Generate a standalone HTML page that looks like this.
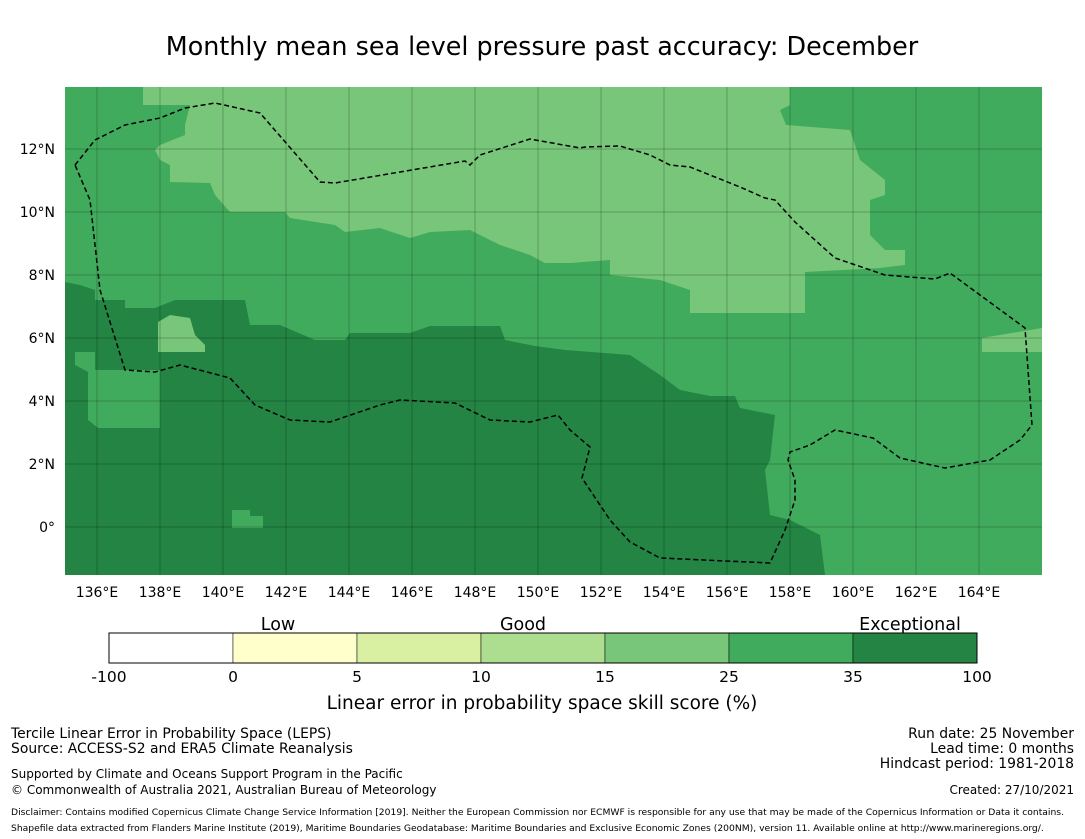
<!DOCTYPE html>
<html><head><meta charset="utf-8"><style>
body{margin:0;background:#fff;font-family:"Liberation Sans","DejaVu Sans",sans-serif;}
svg{display:block}
</style></head><body>
<svg width="1085" height="839" viewBox="0 0 1085 839" font-family="DejaVu Sans, Liberation Sans, sans-serif">
<text x="542" y="55" text-anchor="middle" font-size="25.4">Monthly mean sea level pressure past accuracy: December</text>
<g id="map">
<rect x="65" y="87" width="977" height="488" fill="#41ab5d"/>
<polygon fill="#78c679" points="143,87 790,87 790,105 780,110 786,125 850,130 860,160 885,180 885,195 870,200 870,235 885,250 905,250 905,265 880,268 805,272 805,313 690,313 690,290 660,280 610,275 610,260 570,263 545,263 530,255 500,245 470,230 430,232 410,238 380,228 345,232 335,225 290,218 285,212 230,212 215,195 210,183 170,182 170,165 160,160 155,150 160,145 185,135 185,125 190,105 143,105"/>
<polygon fill="#78c679" points="982,338 1042,328 1042,352 982,352"/>
<polygon fill="#238443" points="65,282 80,285 95,290 95,300 125,300 125,308 155,308 175,300 190,300 245,300 250,325 280,325 315,340 345,340 350,333 410,333 430,326 500,326 505,340 535,346 565,350 630,355 660,375 680,390 710,396 735,396 740,408 775,415 770,460 765,470 770,515 790,520 820,535 825,575 65,575"/>
<polygon fill="#41ab5d" points="75,352 95,352 95,370 160,370 160,428 98,428 88,420 88,372 75,365"/>
<polygon fill="#78c679" points="158,322 170,315 190,318 195,335 205,345 205,352 158,352"/>
<polygon fill="#41ab5d" points="232,510 250,510 250,516 263,516 263,528 232,528"/>
<g id="grid" stroke="#000" stroke-opacity="0.22" stroke-width="1"></g>
<polyline fill="none" stroke="#000" stroke-width="1.5" stroke-dasharray="5,3" points="75,165 95,140 125,125 160,118 185,108 215,103 260,113 320,182 335,183 400,172 465,161 470,165 480,155 530,139 580,148 585,147 620,146 650,155 670,165 690,167 740,187 765,198 775,200 795,222 835,258 885,275 935,279 950,273 1025,328 1032,425 1020,440 990,460 945,468 900,458 873,438 835,430 810,445 790,452 788,460 795,480 795,500 785,530 770,563 660,558 630,542 610,520 582,478 590,447 570,430 558,415 530,422 490,420 455,403 400,400 380,405 330,422 290,420 255,405 230,378 180,365 155,372 125,370 100,290 90,200 75,165"/>
</g>
<g id="xt" font-size="14" text-anchor="middle"></g>
<g id="yt" font-size="14" text-anchor="end"></g>
<g id="cb"></g>
<text x="278" y="630" font-size="17.5" text-anchor="middle">Low</text>
<text x="523" y="630" font-size="17.5" text-anchor="middle">Good</text>
<text x="910" y="630" font-size="17.5" text-anchor="middle">Exceptional</text>
<text x="542" y="709" font-size="18.5" text-anchor="middle">Linear error in probability space skill score (%)</text>
<g font-size="13.9">
<text x="11" y="738">Tercile Linear Error in Probability Space (LEPS)</text>
<text x="11" y="753">Source: ACCESS-S2 and ERA5 Climate Reanalysis</text>
<text x="11" y="778" font-size="12">Supported by Climate and Oceans Support Program in the Pacific</text>
<text x="11" y="794" font-size="12">© Commonwealth of Australia 2021, Australian Bureau of Meteorology</text>
</g>
<g font-size="13.9" text-anchor="end">
<text x="1074" y="738">Run date: 25 November</text>
<text x="1074" y="753">Lead time: 0 months</text>
<text x="1074" y="768">Hindcast period: 1981-2018</text>
<text x="1074" y="794" font-size="12">Created: 27/10/2021</text>
</g>
<text x="11" y="815" font-size="9.2">Disclaimer: Contains modified Copernicus Climate Change Service Information [2019]. Neither the European Commission nor ECMWF is responsible for any use that may be made of the Copernicus Information or Data it contains.</text>
<text x="11" y="831" font-size="9.2">Shapefile data extracted from Flanders Marine Institute (2019), Maritime Boundaries Geodatabase: Maritime Boundaries and Exclusive Economic Zones (200NM), version 11. Available online at http://www.marineregions.org/.</text>
</svg>
<script>
const lonTicks=[136,138,140,142,144,146,148,150,152,154,156,158,160,162,164];
const latTicks=[12,10,8,6,4,2,0];
const latLabels=["12°N","10°N","8°N","6°N","4°N","2°N","0°"];
const cbBounds=["-100","0","5","10","15","25","35","100"];
const cbColors=["#ffffff","#ffffcc","#d9f0a3","#addd8e","#78c679","#41ab5d","#238443"];
const NS="http://www.w3.org/2000/svg";
const xs=l=>65.5+(l-135)*31.5, ys=l=>527-l*31.5;
function mk(t,a,p){const e=document.createElementNS(NS,t);for(const k in a)e.setAttribute(k,a[k]);p.appendChild(e);return e;}
const g=document.getElementById('grid'),xt=document.getElementById('xt'),yt=document.getElementById('yt'),cb=document.getElementById('cb');
lonTicks.forEach(l=>{const x=xs(l);
const ln=mk('line',{x1:x,x2:x,y1:87,y2:575},g);


const t=mk('text',{x:x,y:597},xt);t.textContent=l+'°E';

});
latTicks.forEach((l,i)=>{const y=ys(l);
const ln=mk('line',{x1:65,x2:1042,y1:y,y2:y},g);


const t=mk('text',{x:55,y:y+5},yt);t.textContent=latLabels[i];

});
const w=124;
cbColors.forEach((c,i)=>{const r=mk('rect',{x:109+i*w,y:633,width:w,height:30,fill:c,stroke:'#000','stroke-width':0.5},cb);

});
mk('rect',{x:109,y:633,width:w*7,height:30,fill:'none',stroke:'#000','stroke-width':1},cb);
cbBounds.forEach((b,i)=>{const t=mk('text',{x:109+i*w,y:682,'font-size':15.5,'text-anchor':'middle'},cb);t.textContent=b;

});
</script>
</body></html>
